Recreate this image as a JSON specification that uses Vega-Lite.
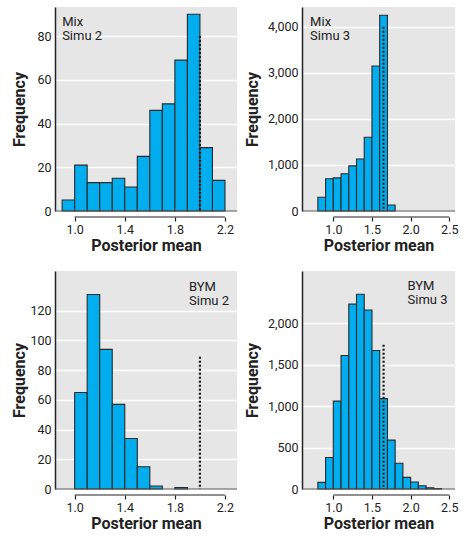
{
  "$schema": "https://vega.github.io/schema/vega-lite/v6.json",
  "padding": {"left": 11, "top": 7, "right": 5, "bottom": 5},
  "background": "white",
  "config": {
    "font": "Roboto",
    "view": {"fill": "#E6E6E6", "stroke": null},
    "axis": {
      "labelFont": "Roboto",
      "labelFontSize": 12.5,
      "labelColor": "#222222",
      "labelOverlap": false,
      "titleFont": "Roboto",
      "titleFontSize": 16,
      "titleFontWeight": "bold",
      "titleColor": "#222222"
    },
    "axisY": {
      "domain": true,
      "domainColor": "#222222",
      "domainWidth": 1.5,
      "ticks": false,
      "labelPadding": 4,
      "grid": true,
      "gridColor": "#FFFFFF",
      "gridWidth": 1.5
    },
    "axisX": {
      "domain": false,
      "grid": false,
      "ticks": true,
      "tickSize": 4,
      "tickColor": "#222222",
      "tickWidth": 1.2,
      "offset": 6,
      "labelPadding": 2,
      "titlePadding": 2
    }
  },
  "datasets": {
    "mix_simu2": [
      {"bin_start": 0.9, "bin_end": 1.0, "frequency": 5},
      {"bin_start": 1.0, "bin_end": 1.1, "frequency": 21},
      {"bin_start": 1.1, "bin_end": 1.2, "frequency": 13},
      {"bin_start": 1.2, "bin_end": 1.3, "frequency": 13},
      {"bin_start": 1.3, "bin_end": 1.4, "frequency": 15},
      {"bin_start": 1.4, "bin_end": 1.5, "frequency": 11},
      {"bin_start": 1.5, "bin_end": 1.6, "frequency": 25},
      {"bin_start": 1.6, "bin_end": 1.7, "frequency": 46},
      {"bin_start": 1.7, "bin_end": 1.8, "frequency": 49},
      {"bin_start": 1.8, "bin_end": 1.9, "frequency": 69},
      {"bin_start": 1.9, "bin_end": 2.0, "frequency": 90},
      {"bin_start": 2.0, "bin_end": 2.1, "frequency": 29},
      {"bin_start": 2.1, "bin_end": 2.2, "frequency": 14}
    ],
    "mix_simu3": [
      {"bin_start": 0.8, "bin_end": 0.9, "frequency": 300},
      {"bin_start": 0.9, "bin_end": 1.0, "frequency": 700},
      {"bin_start": 1.0, "bin_end": 1.1, "frequency": 720},
      {"bin_start": 1.1, "bin_end": 1.2, "frequency": 810},
      {"bin_start": 1.2, "bin_end": 1.3, "frequency": 980},
      {"bin_start": 1.3, "bin_end": 1.4, "frequency": 1130},
      {"bin_start": 1.4, "bin_end": 1.5, "frequency": 1600},
      {"bin_start": 1.5, "bin_end": 1.6, "frequency": 3150},
      {"bin_start": 1.6, "bin_end": 1.7, "frequency": 4250},
      {"bin_start": 1.7, "bin_end": 1.8, "frequency": 130}
    ],
    "bym_simu2": [
      {"bin_start": 1.0, "bin_end": 1.1, "frequency": 65},
      {"bin_start": 1.1, "bin_end": 1.2, "frequency": 131},
      {"bin_start": 1.2, "bin_end": 1.3, "frequency": 94},
      {"bin_start": 1.3, "bin_end": 1.4, "frequency": 57},
      {"bin_start": 1.4, "bin_end": 1.5, "frequency": 34},
      {"bin_start": 1.5, "bin_end": 1.6, "frequency": 15},
      {"bin_start": 1.6, "bin_end": 1.7, "frequency": 2},
      {"bin_start": 1.8, "bin_end": 1.9, "frequency": 1}
    ],
    "bym_simu3": [
      {"bin_start": 0.8, "bin_end": 0.9, "frequency": 80},
      {"bin_start": 0.9, "bin_end": 1.0, "frequency": 380},
      {"bin_start": 1.0, "bin_end": 1.1, "frequency": 1060},
      {"bin_start": 1.1, "bin_end": 1.2, "frequency": 1610},
      {"bin_start": 1.2, "bin_end": 1.3, "frequency": 2230},
      {"bin_start": 1.3, "bin_end": 1.4, "frequency": 2350},
      {"bin_start": 1.4, "bin_end": 1.5, "frequency": 2160},
      {"bin_start": 1.5, "bin_end": 1.6, "frequency": 1670},
      {"bin_start": 1.6, "bin_end": 1.7, "frequency": 1090},
      {"bin_start": 1.7, "bin_end": 1.8, "frequency": 590},
      {"bin_start": 1.8, "bin_end": 1.9, "frequency": 310},
      {"bin_start": 1.9, "bin_end": 2.0, "frequency": 140},
      {"bin_start": 2.0, "bin_end": 2.1, "frequency": 85},
      {"bin_start": 2.1, "bin_end": 2.2, "frequency": 40},
      {"bin_start": 2.2, "bin_end": 2.3, "frequency": 15},
      {"bin_start": 2.3, "bin_end": 2.4, "frequency": 5}
    ]
  },
  "columns": 2,
  "bounds": "flush",
  "align": "each",
  "spacing": {"row": 60, "column": 65},
  "concat": [
    {
      "width": 182,
      "height": 204,
      "layer": [
        {
          "data": {"name": "mix_simu2"},
          "mark": {"type": "rect", "fill": "#00AEEF", "stroke": "#2a2a2a", "strokeWidth": 1.1},
          "encoding": {
            "x": {"field": "bin_start", "type": "quantitative",
                  "scale": {"domain": [0.843, 2.296], "nice": false, "zero": false},
                  "axis": {"title": "Posterior mean", "values": [1.0, 1.2, 1.4, 1.6, 1.8, 2.0, 2.2], "format": ".1f", "labelOverlap": false, "labelExpr": "round(datum.value * 10) % 4 == 0 ? '' : datum.label"}},
            "x2": {"field": "bin_end"},
            "y": {"field": "frequency", "type": "quantitative",
                  "scale": {"domain": [0, 93.3], "nice": false},
                  "axis": {"title": "Frequency", "values": [0, 20, 40, 60, 80], "format": ",d", "labelOverlap": false, "titleX": -28}},
            "y2": {"datum": 0}
          }
        },
        {
          "data": {"values": [{}]},
          "mark": {"type": "rule", "color": "#555555", "strokeWidth": 1},
          "encoding": {"y": {"datum": 0, "type": "quantitative",
                  "axis": {"title": "Frequency", "values": [0, 20, 40, 60, 80], "format": ",d", "labelOverlap": false, "titleX": -28}}}
        },
        {
          "data": {"values": [{"true_value": 2.0}]},
          "mark": {"type": "rule", "strokeDash": [2, 2], "strokeWidth": 2.2, "color": "#1a1a1a"},
          "encoding": {
            "x": {"field": "true_value", "type": "quantitative",
                  "axis": {"title": "Posterior mean", "values": [1.0, 1.2, 1.4, 1.6, 1.8, 2.0, 2.2], "format": ".1f", "labelOverlap": false, "labelExpr": "round(datum.value * 10) % 4 == 0 ? '' : datum.label"}},
            "y": {"datum": 80, "type": "quantitative",
                  "axis": {"title": "Frequency", "values": [0, 20, 40, 60, 80], "format": ",d", "labelOverlap": false, "titleX": -28}},
            "y2": {"datum": 0}
          }
        },
        {
          "data": {"values": [{}]},
          "mark": {"type": "text", "text": ["Mix", "Simu 2"], "align": "left", "baseline": "top", "fontSize": 13, "lineHeight": 14, "color": "#222222"},
          "encoding": {"x": {"datum": 0.9, "type": "quantitative"}, "y": {"datum": 89, "type": "quantitative"}}
        },
        {
          "data": {"values": [{}]},
          "mark": {"type": "rule", "yOffset": 6, "color": "#222222", "strokeWidth": 1.2},
          "encoding": {"x": {"datum": 1.0, "type": "quantitative"}, "x2": {"datum": 2.2}, "y": {"datum": 0, "type": "quantitative"}}
        }
      ]
    },
    {
      "width": 153,
      "height": 204,
      "layer": [
        {
          "data": {"name": "mix_simu3"},
          "mark": {"type": "rect", "fill": "#00AEEF", "stroke": "#2a2a2a", "strokeWidth": 1.1},
          "encoding": {
            "x": {"field": "bin_start", "type": "quantitative",
                  "scale": {"domain": [0.595, 2.574], "nice": false, "zero": false},
                  "axis": {"title": "Posterior mean", "values": [1.0, 1.5, 2.0, 2.5], "format": ".1f", "labelOverlap": false}},
            "x2": {"field": "bin_end"},
            "y": {"field": "frequency", "type": "quantitative",
                  "scale": {"domain": [0, 4430], "nice": false},
                  "axis": {"title": "Frequency", "values": [0, 1000, 2000, 3000, 4000], "format": ",d", "labelOverlap": false, "titleX": -42}},
            "y2": {"datum": 0}
          }
        },
        {
          "data": {"values": [{}]},
          "mark": {"type": "rule", "color": "#555555", "strokeWidth": 1},
          "encoding": {"y": {"datum": 0, "type": "quantitative",
                  "axis": {"title": "Frequency", "values": [0, 1000, 2000, 3000, 4000], "format": ",d", "labelOverlap": false, "titleX": -42}}}
        },
        {
          "data": {"values": [{"true_value": 1.65}]},
          "mark": {"type": "rule", "strokeDash": [2, 2], "strokeWidth": 2.2, "color": "#1a1a1a"},
          "encoding": {
            "x": {"field": "true_value", "type": "quantitative",
                  "axis": {"title": "Posterior mean", "values": [1.0, 1.5, 2.0, 2.5], "format": ".1f", "labelOverlap": false}},
            "y": {"datum": 4000, "type": "quantitative",
                  "axis": {"title": "Frequency", "values": [0, 1000, 2000, 3000, 4000], "format": ",d", "labelOverlap": false, "titleX": -42}},
            "y2": {"datum": 0}
          }
        },
        {
          "data": {"values": [{}]},
          "mark": {"type": "text", "text": ["Mix", "Simu 3"], "align": "left", "baseline": "top", "fontSize": 13, "lineHeight": 14, "color": "#222222"},
          "encoding": {"x": {"datum": 0.7, "type": "quantitative"}, "y": {"datum": 4225, "type": "quantitative"}}
        },
        {
          "data": {"values": [{}]},
          "mark": {"type": "rule", "yOffset": 6, "color": "#222222", "strokeWidth": 1.2},
          "encoding": {"x": {"datum": 1.0, "type": "quantitative"}, "x2": {"datum": 2.5}, "y": {"datum": 0, "type": "quantitative"}}
        }
      ]
    },
    {
      "width": 182,
      "height": 218,
      "layer": [
        {
          "data": {"name": "bym_simu2"},
          "mark": {"type": "rect", "fill": "#00AEEF", "stroke": "#2a2a2a", "strokeWidth": 1.1},
          "encoding": {
            "x": {"field": "bin_start", "type": "quantitative",
                  "scale": {"domain": [0.843, 2.296], "nice": false, "zero": false},
                  "axis": {"title": "Posterior mean", "values": [1.0, 1.2, 1.4, 1.6, 1.8, 2.0, 2.2], "format": ".1f", "labelOverlap": false, "labelExpr": "round(datum.value * 10) % 4 == 0 ? '' : datum.label"}},
            "x2": {"field": "bin_end"},
            "y": {"field": "frequency", "type": "quantitative",
                  "scale": {"domain": [0, 146.8], "nice": false},
                  "axis": {"title": "Frequency", "values": [0, 20, 40, 60, 80, 100, 120], "tickCount": 7, "format": ",d", "labelOverlap": false, "titleX": -28}},
            "y2": {"datum": 0}
          }
        },
        {
          "data": {"values": [{}]},
          "mark": {"type": "rule", "color": "#555555", "strokeWidth": 1},
          "encoding": {"y": {"datum": 0, "type": "quantitative",
                  "axis": {"title": "Frequency", "values": [0, 20, 40, 60, 80, 100, 120], "tickCount": 7, "format": ",d", "labelOverlap": false, "titleX": -28}}}
        },
        {
          "data": {"values": [{"true_value": 2.0}]},
          "mark": {"type": "rule", "strokeDash": [2, 2], "strokeWidth": 2.2, "color": "#1a1a1a"},
          "encoding": {
            "x": {"field": "true_value", "type": "quantitative",
                  "axis": {"title": "Posterior mean", "values": [1.0, 1.2, 1.4, 1.6, 1.8, 2.0, 2.2], "format": ".1f", "labelOverlap": false, "labelExpr": "round(datum.value * 10) % 4 == 0 ? '' : datum.label"}},
            "y": {"datum": 89, "type": "quantitative",
                  "axis": {"title": "Frequency", "values": [0, 20, 40, 60, 80, 100, 120], "tickCount": 7, "format": ",d", "labelOverlap": false, "titleX": -28}},
            "y2": {"datum": 0}
          }
        },
        {
          "data": {"values": [{}]},
          "mark": {"type": "text", "text": ["BYM", "Simu 2"], "align": "left", "baseline": "top", "fontSize": 13, "lineHeight": 14, "color": "#222222"},
          "encoding": {"x": {"datum": 1.913, "type": "quantitative"}, "y": {"datum": 140, "type": "quantitative"}}
        },
        {
          "data": {"values": [{}]},
          "mark": {"type": "rule", "yOffset": 6, "color": "#222222", "strokeWidth": 1.2},
          "encoding": {"x": {"datum": 1.0, "type": "quantitative"}, "x2": {"datum": 2.2}, "y": {"datum": 0, "type": "quantitative"}}
        }
      ]
    },
    {
      "width": 153,
      "height": 218,
      "layer": [
        {
          "data": {"name": "bym_simu3"},
          "mark": {"type": "rect", "fill": "#00AEEF", "stroke": "#2a2a2a", "strokeWidth": 1.1},
          "encoding": {
            "x": {"field": "bin_start", "type": "quantitative",
                  "scale": {"domain": [0.595, 2.574], "nice": false, "zero": false},
                  "axis": {"title": "Posterior mean", "values": [1.0, 1.5, 2.0, 2.5], "format": ".1f", "labelOverlap": false}},
            "x2": {"field": "bin_end"},
            "y": {"field": "frequency", "type": "quantitative",
                  "scale": {"domain": [0, 2630], "nice": false},
                  "axis": {"title": "Frequency", "values": [0, 500, 1000, 1500, 2000], "format": ",d", "labelOverlap": false, "titleX": -42}},
            "y2": {"datum": 0}
          }
        },
        {
          "data": {"values": [{}]},
          "mark": {"type": "rule", "color": "#555555", "strokeWidth": 1},
          "encoding": {"y": {"datum": 0, "type": "quantitative",
                  "axis": {"title": "Frequency", "values": [0, 500, 1000, 1500, 2000], "format": ",d", "labelOverlap": false, "titleX": -42}}}
        },
        {
          "data": {"values": [{"true_value": 1.65}]},
          "mark": {"type": "rule", "strokeDash": [2, 2], "strokeWidth": 2.2, "color": "#1a1a1a"},
          "encoding": {
            "x": {"field": "true_value", "type": "quantitative",
                  "axis": {"title": "Posterior mean", "values": [1.0, 1.5, 2.0, 2.5], "format": ".1f", "labelOverlap": false}},
            "y": {"datum": 1740, "type": "quantitative",
                  "axis": {"title": "Frequency", "values": [0, 500, 1000, 1500, 2000], "format": ",d", "labelOverlap": false, "titleX": -42}},
            "y2": {"datum": 0}
          }
        },
        {
          "data": {"values": [{}]},
          "mark": {"type": "text", "text": ["BYM", "Simu 3"], "align": "left", "baseline": "top", "fontSize": 13, "lineHeight": 14, "color": "#222222"},
          "encoding": {"x": {"datum": 1.96, "type": "quantitative"}, "y": {"datum": 2520, "type": "quantitative"}}
        },
        {
          "data": {"values": [{}]},
          "mark": {"type": "rule", "yOffset": 6, "color": "#222222", "strokeWidth": 1.2},
          "encoding": {"x": {"datum": 1.0, "type": "quantitative"}, "x2": {"datum": 2.5}, "y": {"datum": 0, "type": "quantitative"}}
        }
      ]
    }
  ]
}
